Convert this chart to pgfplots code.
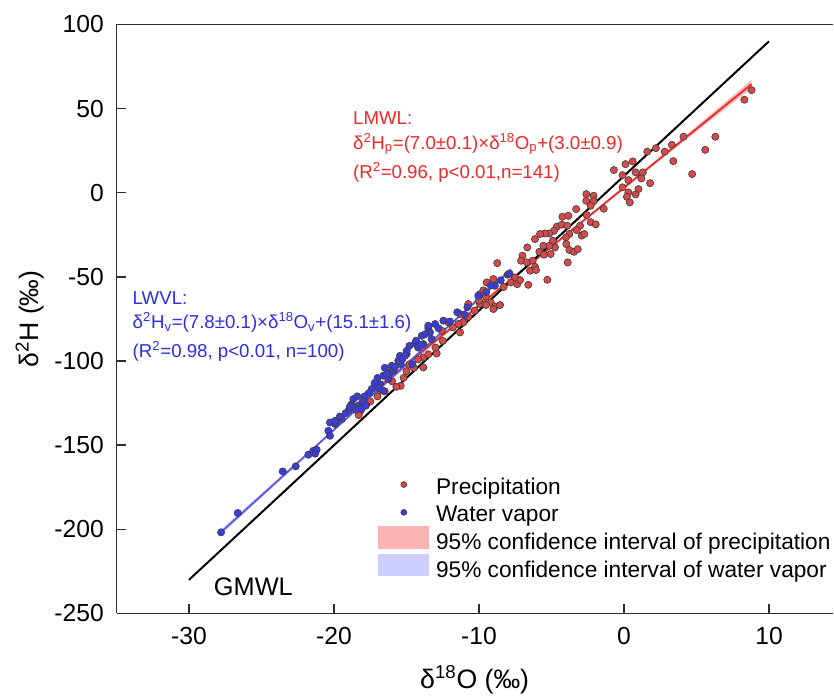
\documentclass[border=0pt]{standalone}
\usepackage{fontspec}
\setmainfont{Liberation Sans}
\usepackage{pgfplots}
\pgfplotsset{compat=1.18}

\definecolor{precfill}{RGB}{218,72,72}
\definecolor{vapfill}{RGB}{60,60,222}
\definecolor{lmwlred}{RGB}{240,40,40}
\definecolor{lwvlblue}{RGB}{45,45,230}
\definecolor{axisgray}{RGB}{45,45,45}

\pgfplotsset{
    markleg/.style={legend image code/.code={
        \path[draw=none, fill=none] (0cm,-4.5pt) rectangle (1.35cm+5pt,14pt);
        \draw[##1, mark size=2.2pt] plot coordinates {(0.675cm,2pt)};}},
    bandleg/.style={legend image code/.code={
        \path[draw=none, fill=none] (0cm,-4.5pt) rectangle (1.35cm+5pt,14pt);
        \fill[##1] (0cm,-4.5pt) rectangle (1.35cm,12.5pt);}},
}

\begin{document}
\begin{tikzpicture}
\begin{axis}[
    at={(0,0)}, anchor=south west,
    width=537.2pt, height=441.75pt, scale only axis,
    xmin=-35, xmax=14.4,
    ymin=-250, ymax=100,
    axis x line*=bottom, axis y line*=left,
    axis line style={line width=1.1pt, axisgray},
    xtick={-30,-20,-10,0,10},
    ytick={-250,-200,-150,-100,-50,0,50,100},
    tick align=inside,
    major tick length=6.75pt,
    every tick/.style={line width=1.1pt, axisgray},
    /pgf/number format/assume math mode=true,
    tick label style={font=\fontsize{18.5}{20}\selectfont},
    yticklabel style={inner sep=0pt, xshift=-9.4pt},
    xticklabel style={inner sep=0pt, yshift=-10pt},
    xlabel={δ\textsuperscript{18}O (‰)},
    ylabel={δ\textsuperscript{2}H (‰)},
    label style={font=\fontsize{20}{22}\selectfont},
    xlabel style={at={(axis description cs:0.5,-0.113)}, anchor=center},
    ylabel style={at={(axis description cs:-0.1208,0.5)}, anchor=center},
    legend cell align=left,
    legend style={at={(axis cs:-16.97,-163.7)}, anchor=north west,
        draw=none, fill=none, inner sep=0pt, row sep=0pt,
        font=\fontsize{17}{19}\selectfont,
        nodes={inner sep=0pt}},
]

% precipitation
\addplot[only marks, mark=*, mark size=2.7pt,
    mark options={fill=precfill, draw=black!75, line width=0.5pt}, markleg]
coordinates {
(8.8,61.0) (8.3,55.3) (6.3,33.3) (5.6,25.5) (4.7,11.1) (4.1,33.3) (3.3,28.5)
(3.4,18.8) (2.8,24.4) (2.2,26.5) (1.6,24.4) (1.8,5.7) (0.6,18.6) (0.1,17.0)
(-0.7,13.5) (-0.1,10.5) (0.8,12.1) (1.3,12.1) (1.2,8.5) (0.3,7.5) (-0.1,3.2)
(1.0,2.2) (0.3,0.2) (0.8,-1.0) (0.2,-2.4) (0.4,-5.7) (-1.4,-9.5)
(-2.6,-0.8) (-2.1,-1.8) (-2.6,-4.8) (-2.1,-5.1) (-2.3,-7.7) (-3.3,-9.7)
(-4.25,-14.3) (-3.84,-13.7) (-2.57,-13.3) (-2.3,-17.5) (-1.95,-18.8)
(-3.03,-19.6) (-3.26,-22.2) (-2.92,-25.5) (-2.74,-24.5) (-3.77,-24.5)
(-4.64,-20.2) (-4.30,-19.0) (-3.91,-19.6) (-4.83,-22.6) (-5.15,-24.2)
(-5.45,-24.2) (-5.79,-24.5) (-6.14,-27.5) (-3.98,-30.5) (-3.77,-34.0)
(-3.45,-35.1) (-3.19,-33.5) (-4.76,-32.5) (-5.15,-31.5) (-5.56,-31.5)
(-5.84,-35.1) (-5.52,-36.8) (-5.06,-36.4) (-3.88,-41.4) (-5.29,-51.7)
(-6.60,-54.7) (-6.67,-32.5) (-7.0,-37.4) (-7.1,-40.4) (-6.7,-41.4)
(-6.3,-40.4) (-6.14,-44.0) (-6.48,-46.3) (-6.07,-45.9) (-8.74,-41.8)
(-7.52,-50.3) (-7.81,-53.3) (-7.36,-54.3) (-7.17,-51.9) (-9.01,-51.3)
(-9.19,-65.2) (-8.90,-67.7) (-8.55,-66.7) (-9.01,-69.1) (-4.9,-28.5)
(-4.0,-26.5) (-9.47,-53.3) (-9.93,-60.2) (-9.52,-61.8) (-9.93,-66.1)
(-9.52,-66.7) (-10.74,-66.1) (-11.31,-72.1) (-10.74,-73.7) (-11.08,-77.0)
(-11.43,-78.0) (-11.31,-83.0) (-12.57,-82.0) (-12.11,-77.0) (-12.92,-95.5)
(-13.84,-97.9) (-13.84,-103.8) (-15.4,-114.7) (-18.2,-129.9) (-18.3,-132.1)
(-15.7,-115.3) (-14.5,-104.0) (-16.5,-118.0) (-17.0,-121.0) (-17.5,-124.0)
(-16.0,-112.0) (-15.0,-106.0) (-13.0,-92.0) (-12.5,-88.0) (-14.2,-99.0)
(-11.8,-80.0) (-10.3,-70.0) (-10.0,-64.0) (-9.7,-58.0) (-8.3,-56.0)
(-16.8,-117.5) (-17.8,-126.0) (-15.2,-110.0) (-14.8,-102.0) (-13.5,-96.0)
};
\addlegendentry{Precipitation}

% water vapor
\addplot[only marks, mark=*, mark size=2.7pt,
    mark options={fill=vapfill, draw=black!75, line width=0.5pt}, markleg]
coordinates {
(-27.79,-201.8) (-26.64,-190.3) (-23.54,-165.6) (-22.64,-162.6) (-21.77,-155.7)
(-21.43,-153.3) (-21.2,-152.7) (-21.3,-155.0) (-20.39,-141.4) (-20.28,-144.4)
(-19.93,-137.4) (-19.8,-135.5) (-19.47,-134.5) (-20.28,-136.5)
(-13.5,-80.4) (-14.41,-89.5) (-13.84,-89.9) (-13.27,-86.9) (-14.99,-95.8)
(-15.45,-96.9) (-14.6,-101.8) (-15.4,-101.8) (-16.14,-106.8) (-16.6,-108.7)
(-16.25,-110.7) (-16.83,-113.7) (-16.6,-117.7) (-17.4,-116.6) (-18.67,-122.6)
(-18.78,-125.6) (-18.32,-126.6) (-19.0,-129.5) (-18.1,-128.5) (-19.93,-135.5)
(-8.02,-48.7) (-8.9,-55.3) (-10.05,-61.2) (-12.46,-76.0) (-13.03,-78.0)
(-13.5,-79.0) (-13.38,-83.0) (-13.95,-85.0) (-14.34,-87.9) (-14.99,-93.9)
(-15.1,-96.8) (-15.57,-99.8) (-16.02,-102.8) (-15.9,-105.7) (-16.37,-107.7)
(-12.0,-76.5) (-12.8,-80.5) (-13.7,-84.0) (-14.2,-92.0) (-14.8,-91.0)
(-15.3,-99.0) (-15.8,-103.5) (-16.5,-104.0) (-17.0,-110.0) (-17.2,-113.0)
(-17.6,-119.0) (-17.9,-121.0) (-18.0,-124.0) (-18.4,-121.0) (-18.5,-129.0)
(-18.9,-127.0) (-19.2,-131.0) (-19.6,-133.0) (-17.8,-126.5) (-16.9,-116.0)
(-14.0,-90.5) (-11.5,-71.0) (-10.8,-68.0) (-9.5,-59.0) (-8.5,-52.0)
(-7.9,-48.0) (-9.2,-55.0) (-11.0,-72.5)
};
\addlegendentry{Water vapor}

% 95% confidence bands
\addplot[fill=lmwlred, fill opacity=0.35, draw=none, area legend, bandleg]
coordinates {
(-18.5,-124.3) (-12,-80.0) (-6,-38.4) (0,3.8) (4,32.2) (8.8,67.0)
(8.8,62.2) (4,29.8) (0,2.2) (-6,-39.6) (-12,-82.0) (-18.5,-128.7)
} -- cycle;
\addlegendentry{95\% confidence interval of precipitation}

\addplot[fill=blue!55, fill opacity=0.35, draw=none, area legend, bandleg]
coordinates {
(-27.8,-200.2) (-18,-124.8) (-12,-77.9) (-7.8,-44.3)
(-7.8,-47.1) (-12,-79.1) (-18,-125.8) (-27.8,-203.2)
} -- cycle;
\addlegendentry{95\% confidence interval of water vapor}

% fitted lines
\addplot[forget plot, lmwlred, line width=1.3pt] coordinates {(-18.5,-126.5) (8.8,64.6)};
\addplot[forget plot, lwvlblue!80, line width=1.3pt] coordinates {(-27.8,-201.7) (-7.8,-45.7)};
\addplot[forget plot, black, line width=1.5pt] coordinates {(-30,-230) (10,90)};

\draw[line width=1.1pt, axisgray] (rel axis cs:0,1) -- (rel axis cs:1,1);

\node[anchor=west, text=lmwlred, font=\fontsize{14}{16}\selectfont, inner sep=0pt]
    at (axis cs:-18.7,44.6) {LMWL:};
\node[anchor=west, text=lmwlred, font=\fontsize{14}{16}\selectfont, inner sep=0pt]
    at (axis cs:-18.7,29.1) {δ\textsuperscript{2}H\textsubscript{p}=(7.0±0.1)×δ\textsuperscript{18}O\textsubscript{p}+(3.0±0.9)};
\node[anchor=west, text=lmwlred, font=\fontsize{14}{16}\selectfont, inner sep=0pt]
    at (axis cs:-18.7,11.9) {(R\textsuperscript{2}=0.96, p<0.01,n=141)};

\node[anchor=west, text=lwvlblue, font=\fontsize{14}{16}\selectfont, inner sep=0pt]
    at (axis cs:-33.9,-62.4) {LWVL:};
\node[anchor=west, text=lwvlblue, font=\fontsize{14}{16}\selectfont, inner sep=0pt]
    at (axis cs:-33.9,-77.2) {δ\textsuperscript{2}H\textsubscript{v}=(7.8±0.1)×δ\textsuperscript{18}O\textsubscript{v}+(15.1±1.6)};
\node[anchor=west, text=lwvlblue, font=\fontsize{14}{16}\selectfont, inner sep=0pt]
    at (axis cs:-33.9,-94.5) {(R\textsuperscript{2}=0.98, p<0.01, n=100)};

\node[anchor=west, font=\fontsize{19}{21}\selectfont, inner sep=0pt]
    at (axis cs:-28.3,-234) {GMWL};
\end{axis}
\pgfresetboundingbox
\useasboundingbox (-87.4pt,-62.6pt) rectangle (538.1pt,460.1pt);
\end{tikzpicture}
\end{document}
